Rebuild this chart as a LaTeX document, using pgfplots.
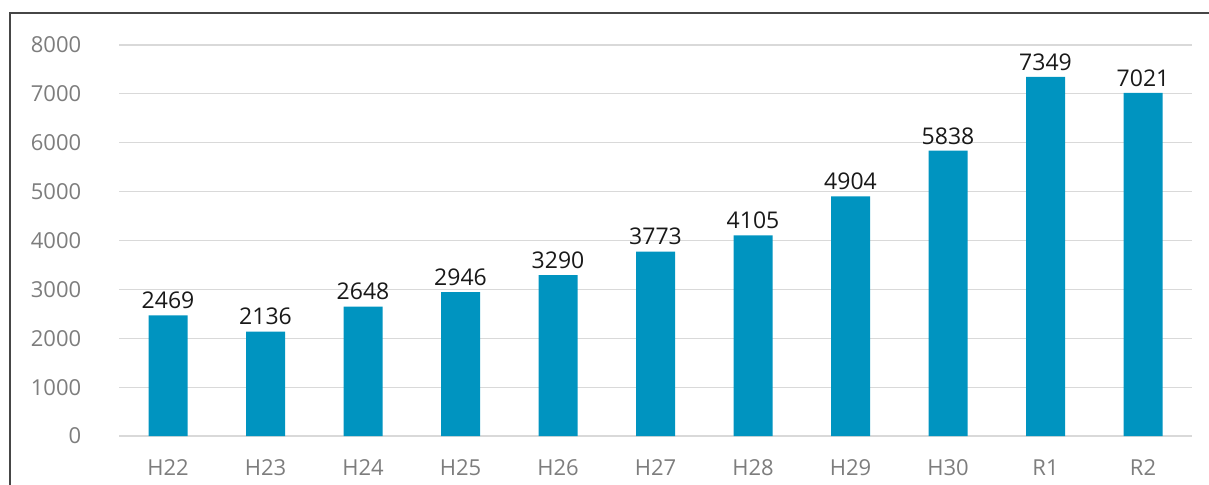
\documentclass[border=0pt]{standalone}
\usepackage{pgfplots}
\pgfplotsset{compat=1.18}
\usepackage{fontspec}
\setmainfont{Open Sans}
\definecolor{barblue}{RGB}{0,148,192}
\definecolor{ticktext}{RGB}{125,125,125}
\definecolor{gridc}{RGB}{217,217,217}
\definecolor{framec}{RGB}{70,70,70}
\begin{document}
\begin{tikzpicture}
\useasboundingbox (0pt,0pt) rectangle (604.5pt,242pt);
\draw[framec, line width=1pt] (5pt,-2pt) -- (5pt,235.5pt) -- (607pt,235.5pt);
\begin{axis}[
  at={(59.625pt,24pt)}, anchor=south west,
  scale only axis, width=536.25pt, height=195.5pt,
  xmin=-0.5, xmax=10.5, ymin=0, ymax=8000,
  ybar, bar width=19.5pt,
  axis line style={draw=none},
  tick style={draw=none},
  ymajorgrids, grid style={gridc, line width=0.6pt},
  xtick={0,1,2,3,4,5,6,7,8,9,10},
  xticklabels={H22,H23,H24,H25,H26,H27,H28,H29,H30,R1,R2},
  ytick={0,1000,2000,3000,4000,5000,6000,7000,8000},
  ticklabel style={ticktext, font=\fontsize{11}{13}\selectfont},
  yticklabel style={xshift=-15.5pt},
  xticklabel style={yshift=-4pt},
  nodes near coords,
  nodes near coords style={font=\fontsize{11.5}{13}\selectfont, black!90, inner sep=3pt},
  /pgf/number format/.cd, 1000 sep={}, assume math mode=true,
]
\addplot[fill=barblue, draw=none] coordinates {
  (0,2469) (1,2136) (2,2648) (3,2946) (4,3290) (5,3773)
  (6,4105) (7,4904) (8,5838) (9,7349) (10,7021)
};
\end{axis}
\end{tikzpicture}
\end{document}
